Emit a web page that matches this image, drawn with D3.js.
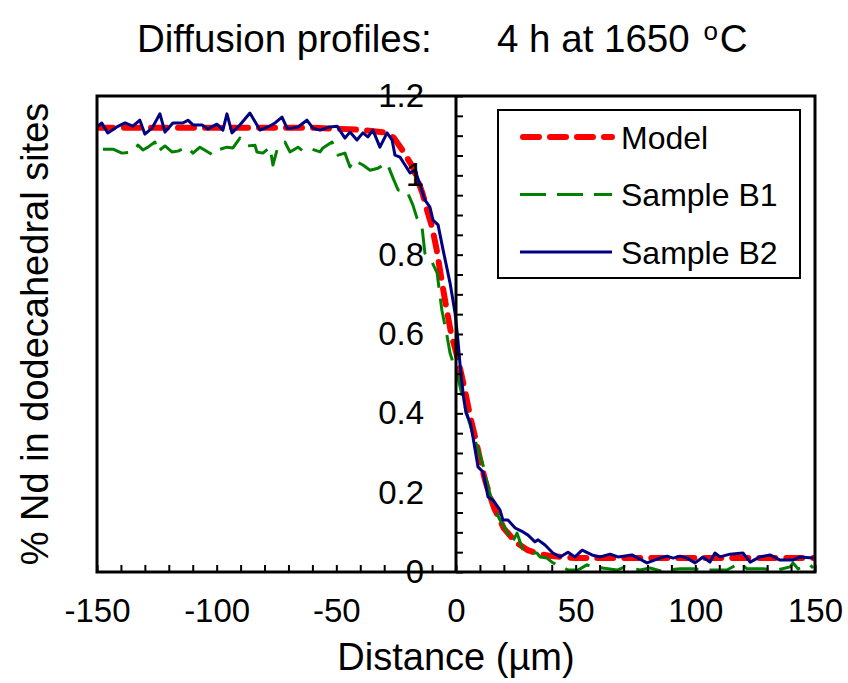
<!DOCTYPE html>
<html>
<head>
<meta charset="utf-8">
<script src="https://cdn.jsdelivr.net/npm/d3@7"></script>
<style>
  body { margin: 0; background: #fff; }
  svg { display: block; font-family: "Liberation Sans", Arial, sans-serif; }
</style>
</head>
<body>
<svg></svg>
<script>
// chart size
let width = 848,
  height = 683;

// data: distance in um, % Nd
const modelX = [-150, -100, -60, -40, -30, -26, -22, -18, -14, -12, -10, -8, -6, -4, -2, 0, 2, 4, 6, 8, 10, 12, 14, 16, 20, 25, 30, 35, 40, 50, 60, 100, 150];
const modelY = [1.12, 1.12, 1.12, 1.115, 1.108, 1.095, 1.06, 1.02, 0.955, 0.91, 0.87, 0.81, 0.735, 0.665, 0.60, 0.555, 0.505, 0.45, 0.39, 0.34, 0.285, 0.235, 0.195, 0.16, 0.11, 0.075, 0.055, 0.045, 0.04, 0.035, 0.035, 0.035, 0.035];

const b1X = [-147.5, -143.3, -139.6, -135.0, -132.9, -130.8, -128.7, -125.8, -124.9, -121.6, -118.7, -116.2, -112.4, -109.9, -107.0, -101.5, -99.5, -95.7, -93.2, -90.3, -87.3, -84.0, -83.2, -80.7, -77.7, -76.5, -74.8, -71.5, -69.4, -66.0, -63.9, -60.2, -56.8, -55.6, -51.8, -49.3, -46.4, -44.3, -43.0, -38.9, -35.9, -32.6, -28.8, -26.3, -24.2, -20.5, -18.0, -16.3, -14.2, -13.0, -10.0, -7.9, -5.9, -3.8, -2.5, -1.3, 0.4, 2.5, 5.0, 7.9, 11.3, 13.4, 16.3, 18.4, 21.7, 23.4, 25.5, 28.0, 30.9, 33.8, 35.1, 38.0, 40.5, 43.5, 46.8, 51.0, 54.7, 57.2, 63.5, 67.3, 70.6, 76.9, 81.1, 85.2, 88.2, 93.6, 99.0, 106.1, 113.2, 118.7, 121.6, 128.3, 134.2, 139.6, 140.8, 142.9, 147.9, 149.2];
const b1Y = [1.066, 1.066, 1.056, 1.059, 1.076, 1.064, 1.071, 1.084, 1.059, 1.074, 1.059, 1.061, 1.071, 1.056, 1.071, 1.051, 1.064, 1.071, 1.069, 1.094, 1.074, 1.076, 1.059, 1.056, 1.071, 1.026, 1.064, 1.084, 1.059, 1.071, 1.061, 1.066, 1.059, 1.069, 1.084, 1.051, 1.056, 1.021, 1.039, 1.026, 1.013, 1.018, 1.031, 0.993, 0.963, 0.960, 0.925, 0.892, 0.870, 0.804, 0.781, 0.754, 0.660, 0.597, 0.552, 0.529, 0.502, 0.446, 0.388, 0.333, 0.270, 0.214, 0.156, 0.131, 0.098, 0.073, 0.098, 0.055, 0.048, 0.048, 0.038, 0.035, 0.023, 0.015, 0.005, 0.005, 0.018, 0.013, 0.008, 0.005, 0.013, 0.005, 0.010, 0.003, 0.005, 0.008, 0.008, 0.005, 0.005, 0.023, 0.008, 0.008, 0.005, 0.013, 0.023, 0.008, 0.018, 0.010];

const b2X = [-150, -148, -145.5, -141.7, -138.3, -135.0, -132.1, -130.0, -127.0, -123.7, -121.6, -118.3, -114.1, -112.0, -109.9, -106.1, -103.6, -99.9, -97.4, -95.7, -93.6, -90.3, -86.1, -81.9, -78.6, -75.6, -72.7, -70.6, -68.5, -66.0, -62.3, -59.8, -56.8, -52.7, -49.7, -46.4, -44.3, -41.4, -38.9, -36.8, -34.7, -31.8, -28.8, -26.7, -25.5, -23.4, -21.3, -19.2, -17.1, -15.0, -13.0, -10.9, -9.6, -7.5, -5.4, -2.5, -0.4, 0.8, 1.7, 2.5, 3.3, 4.2, 5.9, 7.1, 9.2, 11.3, 13.4, 15.5, 18.4, 19.6, 21.7, 24.7, 28.0, 30.1, 33.0, 34.3, 37.2, 40.5, 43.5, 46.8, 49.7, 52.7, 56.8, 60.2, 64.4, 67.7, 73.5, 79.8, 85.2, 88.2, 90.7, 93.6, 96.5, 99.9, 103.2, 106.1, 108.2, 110.3, 114.5, 119.9, 122.9, 127.0, 131.2, 135.4, 140.8, 143.7, 149.2];
const b2Y = [1.122, 1.132, 1.107, 1.122, 1.132, 1.124, 1.139, 1.104, 1.119, 1.155, 1.109, 1.132, 1.132, 1.139, 1.127, 1.127, 1.117, 1.129, 1.114, 1.155, 1.107, 1.127, 1.157, 1.114, 1.122, 1.132, 1.147, 1.119, 1.119, 1.122, 1.139, 1.119, 1.114, 1.122, 1.124, 1.094, 1.109, 1.089, 1.107, 1.097, 1.114, 1.071, 1.107, 1.089, 1.051, 1.046, 1.026, 1.006, 1.013, 0.976, 0.938, 0.920, 0.887, 0.875, 0.812, 0.729, 0.653, 0.585, 0.522, 0.476, 0.434, 0.401, 0.378, 0.340, 0.265, 0.252, 0.189, 0.181, 0.156, 0.131, 0.131, 0.111, 0.101, 0.093, 0.076, 0.081, 0.068, 0.048, 0.038, 0.050, 0.038, 0.055, 0.043, 0.038, 0.045, 0.038, 0.043, 0.023, 0.035, 0.040, 0.035, 0.040, 0.035, 0.023, 0.038, 0.025, 0.048, 0.038, 0.045, 0.048, 0.025, 0.038, 0.043, 0.030, 0.030, 0.038, 0.035];

const xMajor = [-150, -100, -50, 0, 50, 100, 150];
const yMajor = [0, 0.2, 0.4, 0.6, 0.8, 1, 1.2];

const series = [
  { name: "Model", xs: modelX, ys: modelY, color: "#ff0000", w: 6, dash: "16,11", cap: "round" },
  { name: "Sample B1", xs: b1X, ys: b1Y, color: "#008000", w: 3, dash: "26,11", cap: "butt" },
  { name: "Sample B2", xs: b2X, ys: b2Y, color: "#000080", w: 3, dash: null, cap: "butt" }
];

let svg = d3.select("svg").attr("width", width).attr("height", height);

const pLeft = 97, pRight = 815, pTop = 96, pBottom = 572;

let x = d3.scaleLinear().domain([-150, 150]).range([pLeft, pRight]);
let y = d3.scaleLinear().domain([0, 1.2]).range([pBottom, pTop]);

svg.append("defs").append("clipPath").attr("id", "plot")
  .append("rect")
  .attr("x", pLeft).attr("y", pTop - 10)
  .attr("width", pRight - pLeft).attr("height", pBottom - pTop + 10);

// curves
let line = d3.line()
  .x((d) => x(d[0]))
  .y((d) => y(d[1]));

svg.append("g")
  .attr("clip-path", "url(#plot)")
  .selectAll("path")
  .data(series)
  .enter()
  .append("path")
  .attr("d", (s) => line(s.xs.map((v, i) => [v, s.ys[i]])))
  .attr("fill", "none")
  .attr("stroke", (s) => s.color)
  .attr("stroke-width", (s) => s.w)
  .attr("stroke-dasharray", (s) => s.dash)
  .attr("stroke-linecap", (s) => s.cap)
  .attr("stroke-linejoin", "round");

// frame
svg.append("rect")
  .attr("x", pLeft).attr("y", pTop)
  .attr("width", pRight - pLeft).attr("height", pBottom - pTop)
  .attr("fill", "none")
  .attr("stroke", "black")
  .attr("stroke-width", 3);

// x axis: minor ticks pointing up, labels below
svg.append("g")
  .attr("transform", "translate(0," + pBottom + ")")
  .call(d3.axisTop(x).tickValues(d3.range(-150, 151, 10)).tickSize(7).tickFormat(""))
  .call((g) => g.select(".domain").remove())
  .call((g) => g.selectAll("line").attr("stroke-width", 2));

svg.append("g")
  .attr("transform", "translate(0," + pBottom + ")")
  .call(d3.axisBottom(x).tickValues(xMajor).tickSize(0).tickPadding(27).tickFormat((d) => String(d)))
  .call((g) => g.select(".domain").remove())
  .selectAll("text")
  .attr("font-size", 33)
  .attr("font-family", "Liberation Sans, Arial, sans-serif")
  .attr("fill", "black");

// y axis at x = 0: ticks to the right, labels to the left
svg.append("g")
  .attr("transform", "translate(" + x(0) + ",0)")
  .call(d3.axisRight(y).tickValues(d3.range(0, 1.201, 0.05)).tickSize(7).tickFormat(""))
  .call((g) => g.select(".domain").attr("stroke-width", 3).attr("d", "M0," + pTop + "V" + pBottom))
  .call((g) => g.selectAll("line").attr("stroke-width", 2));

svg.append("g")
  .attr("transform", "translate(" + x(0) + ",0)")
  .call(d3.axisLeft(y).tickValues(yMajor).tickSize(0).tickPadding(32).tickFormat((d) => String(d)))
  .call((g) => g.select(".domain").remove())
  .selectAll("text")
  .attr("font-size", 33)
  .attr("font-family", "Liberation Sans, Arial, sans-serif")
  .attr("fill", "black");

// title
let title = svg.append("text")
  .attr("x", 137).attr("y", 52)
  .attr("font-size", 38.5)
  .text("Diffusion profiles:");
title.append("tspan").attr("x", 497).text("4 h at 1650 ");
title.append("tspan").attr("font-size", 26).attr("dy", -12).attr("dx", 3).text("o");
title.append("tspan").attr("dy", 12).attr("dx", 2).text("C");

// axis titles
svg.append("text")
  .attr("x", x(0)).attr("y", 670)
  .attr("text-anchor", "middle")
  .attr("font-size", 38)
  .text("Distance (\u00b5m)");

svg.append("text")
  .attr("transform", "translate(48," + (pTop + pBottom) / 2 + ") rotate(-90)")
  .attr("text-anchor", "middle")
  .attr("font-size", 38)
  .text("% Nd in dodecahedral sites");

// legend
let legend = svg.append("g");
legend.append("rect")
  .attr("x", 498).attr("y", 110)
  .attr("width", 302).attr("height", 168)
  .attr("fill", "white")
  .attr("stroke", "black")
  .attr("stroke-width", 2);

let rows = legend.selectAll("g.row")
  .data(series)
  .enter()
  .append("g")
  .attr("transform", (d, i) => "translate(0," + (137 + i * 57.5) + ")");

rows.append("line")
  .attr("x1", (d) => d.cap === "round" ? 523 : 520).attr("x2", 612)
  .attr("stroke", (d) => d.color)
  .attr("stroke-width", (d) => d.w)
  .attr("stroke-dasharray", (d) => d.dash)
  .attr("stroke-linecap", (d) => d.cap);

rows.append("text")
  .attr("x", 621).attr("dy", "0.36em")
  .attr("font-size", 32)
  .text((d) => d.name);
</script>
</body>
</html>
